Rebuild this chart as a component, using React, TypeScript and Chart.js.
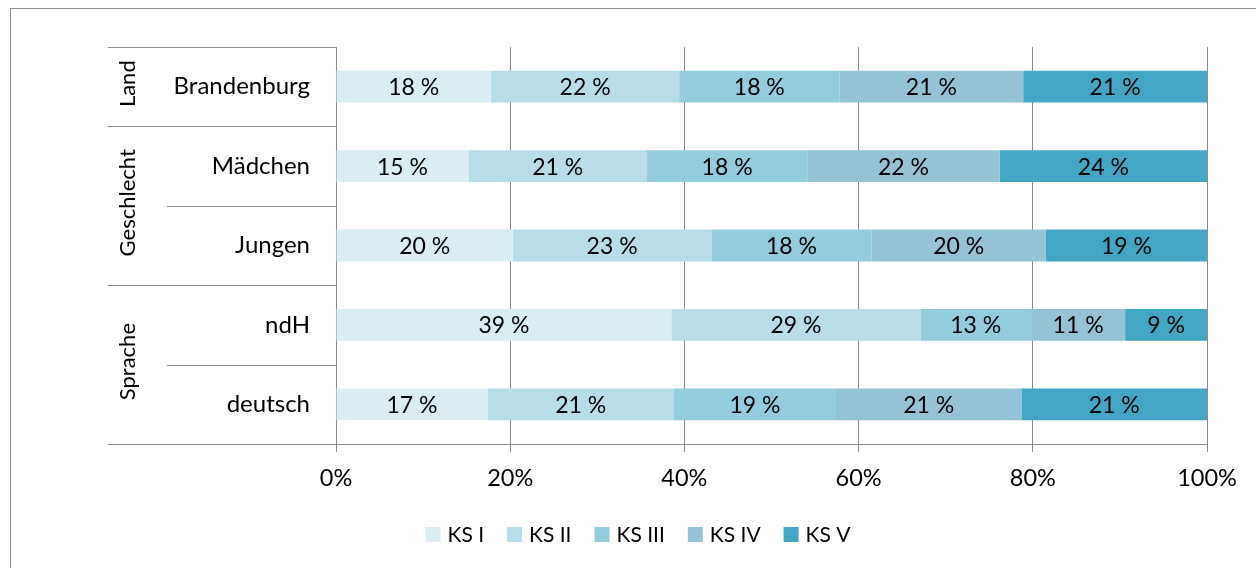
import React, { useEffect, useRef } from "react";
import { Chart, registerables } from "chart.js";

Chart.register(...registerables);

const categories = ["Brandenburg", "Mädchen", "Jungen", "ndH", "deutsch"];
const seriesNames = ["KS I", "KS II", "KS III", "KS IV", "KS V"];
const ks1 = [17.8, 15.2, 20.3, 38.5, 17.4];
const ks2 = [21.6, 20.5, 22.8, 28.6, 21.4];
const ks3 = [18.4, 18.4, 18.4, 12.7, 18.6];
const ks4 = [21.1, 22.1, 20.0, 10.8, 21.3];
const ks5 = [21.1, 23.8, 18.5, 9.4, 21.3];
const seriesColors = ["#DAEDF3", "#B7DDE8", "#93CDDD", "#93C3D4", "#43A6C4"];
const xTicks = [0, 20, 40, 60, 80, 100];
const groups = [
  { label: "Land", start: 0, count: 1 },
  { label: "Geschlecht", start: 1, count: 2 },
  { label: "Sprache", start: 3, count: 2 },
];

const FONT_FAMILY = "Lato, 'DejaVu Sans', sans-serif";
const LINE = "#8a8a8a";

export default function App() {
  const ref = useRef<HTMLCanvasElement | null>(null);

  useEffect(() => {
    if (!ref.current) return;
    const values = [ks1, ks2, ks3, ks4, ks5];

    const framePlugin = {
      id: "frame",
      beforeDraw(chart: any) {
        const ctx = chart.ctx;
        ctx.save();
        ctx.fillStyle = "#fff";
        ctx.fillRect(0, 0, chart.width, chart.height);
        ctx.strokeStyle = LINE;
        ctx.lineWidth = 1;
        ctx.strokeRect(10.5, 8.5, chart.width + 20, chart.height + 20);
        ctx.restore();
      },
    };

    const labelsPlugin = {
      id: "barLabels",
      afterDatasetsDraw(chart: any) {
        const ctx = chart.ctx;
        ctx.save();
        ctx.font = `23px ${FONT_FAMILY}`;
        ctx.fillStyle = "#000";
        ctx.textAlign = "center";
        ctx.textBaseline = "middle";
        chart.data.datasets.forEach((ds: any, di: number) => {
          const meta = chart.getDatasetMeta(di);
          meta.data.forEach((bar: any, i: number) => {
            const v = ds.data[i];
            const cx = (bar.x + bar.base) / 2;
            ctx.fillText(`${Math.round(v)} %`, cx, bar.y + 1);
          });
        });
        ctx.restore();
      },
    };

    const groupPlugin = {
      id: "groups",
      afterDraw(chart: any) {
        const ctx = chart.ctx;
        const ys = chart.scales.y;
        const area = chart.chartArea;
        const step = ys.getPixelForValue(1) - ys.getPixelForValue(0);
        const edge = (i: number) => ys.getPixelForValue(i) - step / 2;
        ctx.save();
        ctx.strokeStyle = LINE;
        ctx.lineWidth = 1;
        const outerX = 108;
        const innerX = 167;
        groups.forEach((g) => {
          for (let k = 0; k <= g.count; k++) {
            const idx = g.start + k;
            const y = Math.round(edge(idx)) + 0.5;
            const isOuter = k === 0 || k === g.count;
            ctx.beginPath();
            ctx.moveTo(isOuter ? outerX : innerX, y);
            ctx.lineTo(area.left, y);
            ctx.stroke();
          }
          const cy = (edge(g.start) + edge(g.start + g.count)) / 2;
          ctx.save();
          ctx.translate(128, cy - 3);
          ctx.rotate(-Math.PI / 2);
          ctx.font = `22px ${FONT_FAMILY}`;
          ctx.fillStyle = "#000";
          ctx.textAlign = "center";
          ctx.textBaseline = "middle";
          ctx.fillText(g.label, 0, 0);
          ctx.restore();
        });

        // legend
        ctx.font = `21px ${FONT_FAMILY}`;
        const box = 15;
        const gap = 7;
        const spacing = 23;
        const widths = chart.data.datasets.map((d: any) => ctx.measureText(d.label).width);
        const total =
          widths.reduce((a: number, b: number) => a + b, 0) +
          widths.length * (box + gap) +
          (widths.length - 1) * spacing;
        let x = 638 - total / 2;
        const cy = 534.5;
        ctx.textAlign = "left";
        ctx.textBaseline = "middle";
        chart.data.datasets.forEach((d: any, i: number) => {
          ctx.fillStyle = d.backgroundColor;
          ctx.fillRect(x, cy - box / 2, box, box);
          x += box + gap;
          ctx.fillStyle = "#000";
          ctx.fillText(d.label, x, cy + 1);
          x += widths[i] + spacing;
        });
        ctx.restore();
      },
    };

    const chart = new Chart(ref.current, {
      type: "bar",
      data: {
        labels: categories,
        datasets: seriesNames.map((name, i) => ({
          label: name,
          data: values[i],
          backgroundColor: seriesColors[i],
          borderWidth: 0,
          barPercentage: 0.4,
          categoryPercentage: 1,
        })),
      },
      options: {
        indexAxis: "y",
        animation: false,
        responsive: false,
        maintainAspectRatio: false,
        layout: { padding: { left: 8, right: 49, top: 47, bottom: 0 } },
        plugins: {
          legend: { display: false },
          tooltip: { enabled: false },
        },
        scales: {
          x: {
            stacked: true,
            min: 0,
            max: 100,
            afterBuildTicks(scale: any) {
              scale.ticks = xTicks.map((v) => ({ value: v }));
            },
            afterFit(scale: any) {
              scale.height = 124;
            },
            grid: { color: LINE, lineWidth: 1, tickLength: 8, drawTicks: true },
            border: { display: true, color: LINE, width: 1 },
            ticks: {
              padding: 12,
              color: "#000",
              font: { family: FONT_FAMILY, size: 23.5 },
              callback: (v: any) => `${v}%`,
              maxRotation: 0,
              autoSkip: false,
            },
          },
          y: {
            stacked: true,
            afterFit(scale: any) {
              scale.width = 328;
            },
            grid: { display: false, drawTicks: false },
            border: { display: true, color: LINE, width: 1 },
            ticks: {
              padding: 26,
              color: "#000",
              font: { family: FONT_FAMILY, size: 24 },
            },
          },
        },
      },
      plugins: [framePlugin, labelsPlugin, groupPlugin],
    } as any);
    return () => chart.destroy();
  }, []);

  return (
    <div style={{ position: "fixed", left: 0, top: 0, width: 1256, height: 568 }}>
      <canvas ref={ref} width={1256} height={568} style={{ width: 1256, height: 568, display: "block" }} />
    </div>
  );
}
